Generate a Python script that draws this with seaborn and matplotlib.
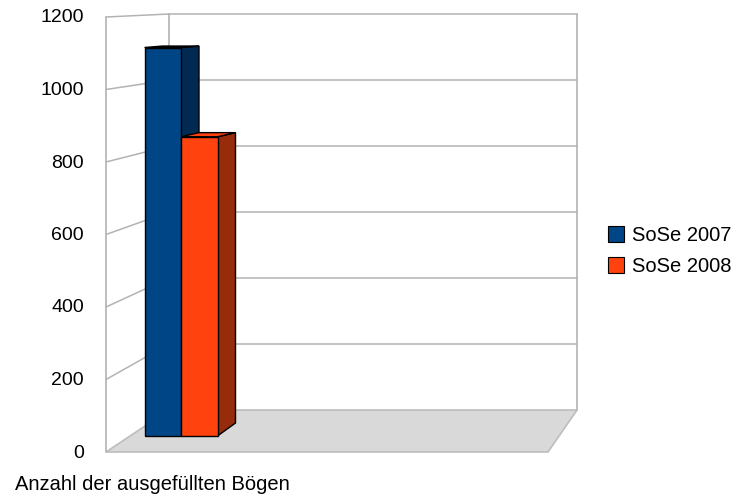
import matplotlib
matplotlib.use("Agg")
import matplotlib.pyplot as plt
from matplotlib.patches import Polygon, Patch
import pandas as pd
import seaborn as sns

# ---- data ----
category = ["Anzahl der ausgefüllten Bögen"]
series = ["SoSe 2007", "SoSe 2008"]
values = [1110, 855]
y_ticks = [0, 200, 400, 600, 800, 1000, 1200]
front_colors = ["#004586", "#ff420e"]
side_colors = ["#002a52", "#962c0c"]

df = pd.DataFrame({
    "Kategorie": category * len(series),
    "Semester": series,
    "Anzahl": values,
})

sns.set_theme(style="white")
plt.rcParams["font.family"] = ["Liberation Sans", "DejaVu Sans"]
plt.rcParams["text.color"] = "black"

W, H = 737, 497
fig = plt.figure(figsize=(W / 100, H / 100), dpi=100)

# background layer in pixel coordinates for the 3D frame
bg = fig.add_axes([0, 0, 1, 1])
bg.set_xlim(0, W)
bg.set_ylim(H, 0)
bg.axis("off")

# frame geometry (pixels): front plane and back plane of the box
FX, BX = 106, 169          # left edge, front / back
FXR, BXR = 548, 577        # right edge, front / back
F0, F_SPAN = 452, 435      # front plane: y of 0 and height of full range
B0, B_SPAN = 410, 396      # back plane
VMAX = y_ticks[-1]
grid_col = "#b3b3b3"


def yf(v):
    return F0 - v * F_SPAN / VMAX


def yb(v):
    return B0 - v * B_SPAN / VMAX


# floor
bg.add_patch(Polygon([(FX, yf(0)), (FXR, yf(0)), (BXR, yb(0)), (BX, yb(0))],
                     closed=True, facecolor="#d9d9d9", edgecolor="#bdbdbd",
                     linewidth=1.2, zorder=1))
# left wall and back wall outlines
bg.plot([FX, FX], [yf(0), yf(VMAX)], color=grid_col, lw=1.2, zorder=2)
bg.plot([BX, BX], [yb(0), yb(VMAX)], color=grid_col, lw=1.2, zorder=2)
bg.plot([BXR, BXR], [yb(0), yb(VMAX)], color=grid_col, lw=1.2, zorder=2)
# grid lines on left and back walls
for v in y_ticks[1:]:
    bg.plot([FX, BX], [yf(v), yb(v)], color=grid_col, lw=1.1, zorder=2)
    bg.plot([BX, BXR], [yb(v), yb(v)], color=grid_col, lw=1.1, zorder=2)
# value labels along the front edge
for v in y_ticks:
    bg.text(84, yf(v) + 1, f"{v}", ha="right", va="center", fontsize=14,
            color="black")
# category name
bg.text(15, 490, category[0], ha="left", va="baseline", fontsize=14.5,
        color="black")

# ---- bars: plotted on an axes whose scale matches the bar depth plane ----
AX_L, AX_R, AX_T, AX_B = 106, 577, 14, 452
BAR0_Y, BAR_SCALE = 436, 0.35      # pixel y of value 0, pixels per unit
CENTER_X, UNIT_PX = 181, 91.25     # pixel x of category centre, px per unit

ax = fig.add_axes([AX_L / W, (H - AX_B) / H, (AX_R - AX_L) / W,
                   (AX_B - AX_T) / H])
ax.patch.set_alpha(0)

sns.barplot(data=df, x="Kategorie", y="Anzahl", hue="Semester",
            palette=front_colors, width=0.8, edgecolor="black", linewidth=1.0,
            saturation=1, legend=False, ax=ax, zorder=5)

ax.set_xlim((AX_L - CENTER_X) / UNIT_PX, (AX_R - CENTER_X) / UNIT_PX)
ax.set_ylim(-(AX_B - BAR0_Y) / BAR_SCALE, (BAR0_Y - AX_T) / BAR_SCALE)
ax.axis("off")

depth_dx = 18 / UNIT_PX


def depth_dy(v):
    # receding offset shrinks toward the top (perspective)
    return 13 * (1 - v / 1250) / BAR_SCALE


bars = [p for p in ax.patches]
for i, p in enumerate(bars):
    x0, w, h = p.get_x(), p.get_width(), p.get_height()
    x1 = x0 + w
    z = 3 + i * 3
    side = [(x1, 0), (x1, h), (x1 + depth_dx, h + depth_dy(h)),
            (x1 + depth_dx, depth_dy(0))]
    top = [(x0, h), (x1, h), (x1 + depth_dx, h + depth_dy(h)),
           (x0 + depth_dx, h + depth_dy(h))]
    ax.add_patch(Polygon(side, closed=True, facecolor=side_colors[i],
                         edgecolor="black", linewidth=1.0, zorder=z))
    ax.add_patch(Polygon(top, closed=True, facecolor=front_colors[i],
                         edgecolor="black", linewidth=1.0, zorder=z + 1))
    p.set_zorder(z + 2)

# legend
handles = [Patch(facecolor=c, edgecolor="black", linewidth=0.8)
           for c in front_colors]
fig.legend(handles, series, loc="center left",
           bbox_to_anchor=(608 / W, 1 - 251 / H), frameon=False,
           borderpad=0, borderaxespad=0,
           fontsize=14.5, handlelength=0.8, handleheight=0.85,
           handletextpad=0.4, labelspacing=0.6)

fig.savefig("out.png", dpi=100)
